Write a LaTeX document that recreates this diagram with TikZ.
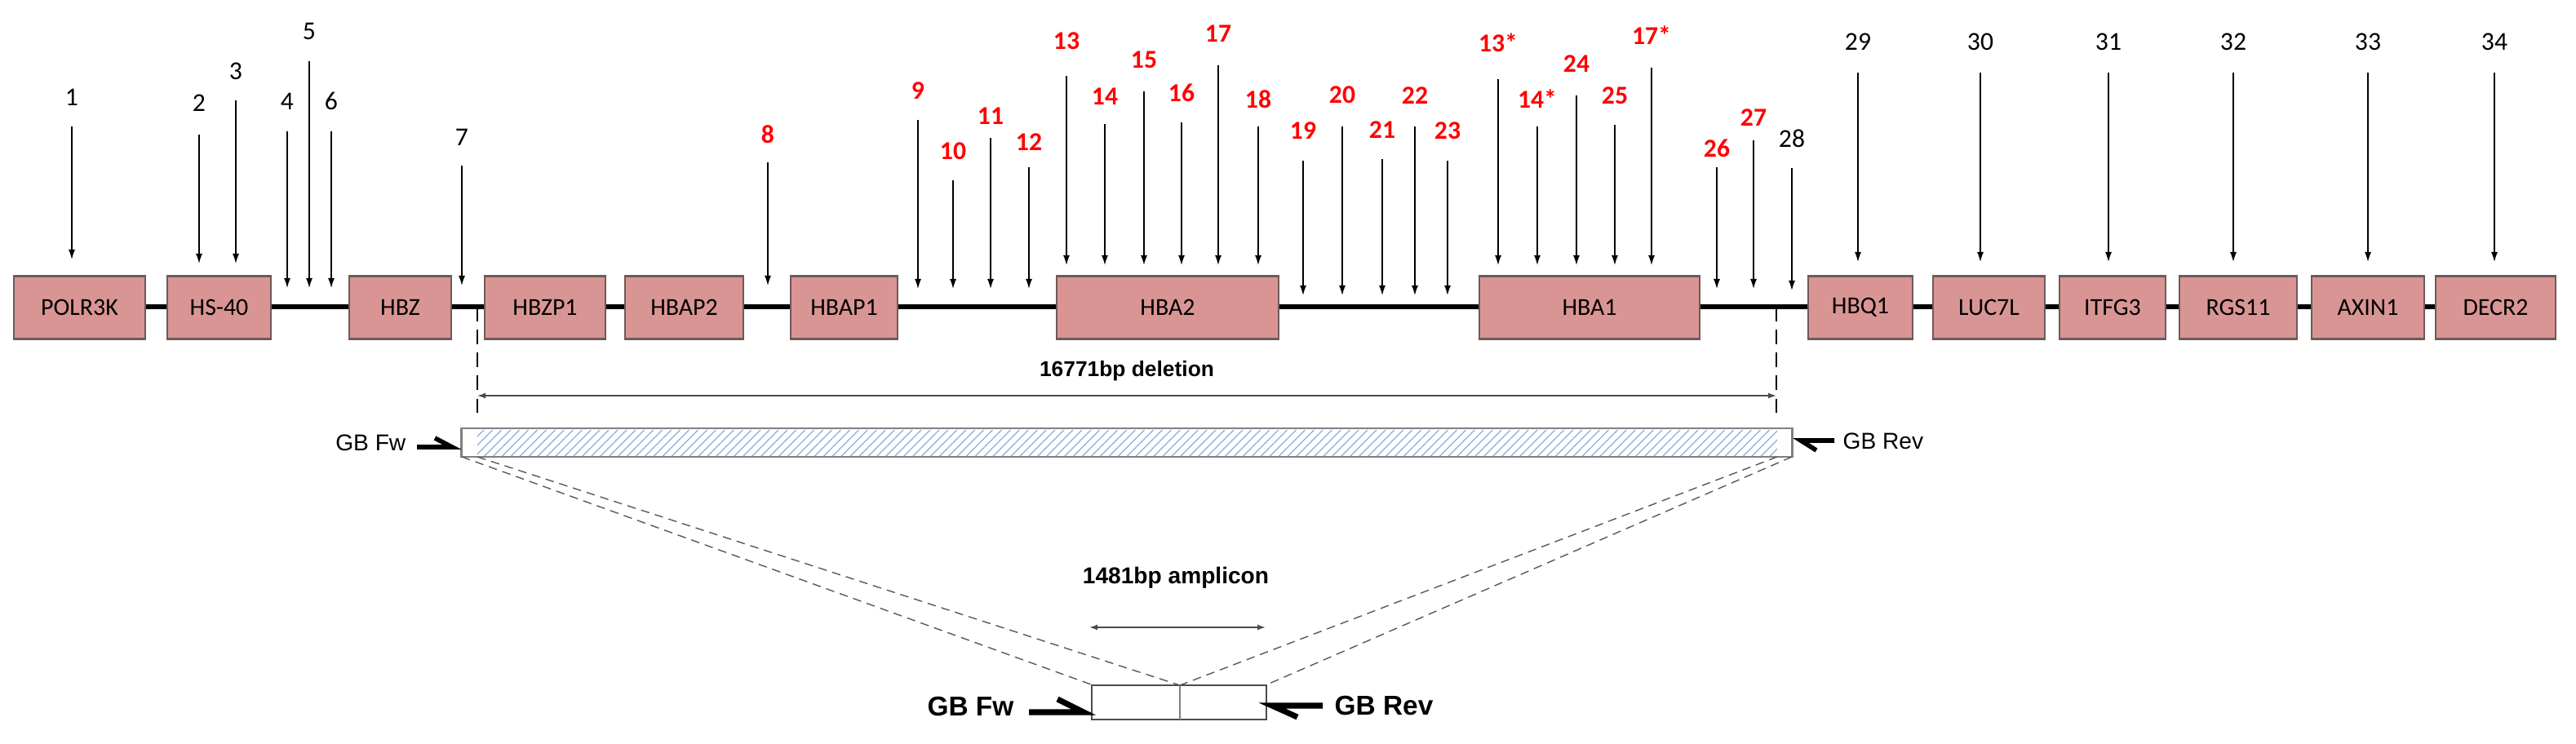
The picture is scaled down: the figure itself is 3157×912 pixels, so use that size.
\documentclass[tikz,border=0pt]{standalone}
\usepackage{fontspec}
\setmainfont{Carlito}
\newfontfamily\arialf{Liberation Sans}
\usetikzlibrary{arrows.meta,patterns.meta}
\definecolor{genefill}{HTML}{D99594}
\definecolor{geneline}{HTML}{6E5A5A}
\definecolor{hatch}{HTML}{8FAADC}
\begin{document}
\begin{tikzpicture}[x=0.01cm,y=-0.01cm,
  gene/.style={draw=geneline,line width=0.6pt,fill=genefill,inner sep=0pt,font=\fontsize{8.5pt}{9pt}\selectfont},
  num/.style={font=\fontsize{9pt}{10pt}\selectfont,inner sep=0pt},
  rnum/.style={num,text=red,font=\fontsize{9pt}{10pt}\selectfont\bfseries},
  marker/.style={-{Latex[length=0.12cm,width=0.08cm]},line width=0.4pt},
  lbl/.style={font=\arialf\bfseries\fontsize{7.5pt}{8pt}\selectfont,inner sep=0pt},
  plbl/.style={font=\arialf\fontsize{8pt}{9pt}\selectfont,inner sep=0pt},
  primer/.style={line width=1.6pt},
  dotl/.style={densely dashed,line width=0.4pt,gray!70!black}]
\useasboundingbox (0,0) rectangle (3157,912);
% backbone
\draw[line width=1.6pt] (17,376) -- (3132,376);
% genes
\foreach \n/\a/\b/\t in {g1/17/178/POLR3K,g2/205/332/HS-40,g3/428/553/HBZ,g4/594/742/HBZP1,g5/766/911/HBAP2,g6/969/1100/HBAP1,g7/1295/1567/HBA2,g8/1813/2083/HBA1,g9/2216/2344/HBQ1,g10/2369/2506/LUC7L,g11/2524/2654/ITFG3,g12/2671/2815/RGS11,g13/2833/2971/AXIN1,g14/2985/3132/DECR2}{
  \pgfmathsetmacro{\w}{(\b-\a)*0.01}
  \node[gene,minimum width=\w cm,minimum height=0.77cm] (\n) at ({(\a+\b)/2},377) {\t};
}
% markers: name/text/x/labely/starty/endy/style
\foreach \k/\t/\x/\ly/\sy/\ey/\s in {
 m1/1/88/119/155/318/num, m2/2/244/126/165/323/num, m3/3/289/87/123/323/num,
 m4/4/352/124/161/353/num, m5/5/379/38/75/353/num, m6/6/406/124/161/353/num,
 m7/7/566/168/203/350/num, m8/8/941/165/199/350/rnum,
 m9/9/1125/111/147/354/rnum, m10/10/1168/185/221/354/rnum, m11/11/1214/142/169/354/rnum, m12/12/1261/174/205/354/rnum,
 m13/13/1307/50/93/325/rnum, m14/14/1354/118/152/325/rnum, m15/15/1402/73/112/325/rnum, m16/16/1448/114/150/325/rnum,
 m17/17/1493/41/80/325/rnum, m18/18/1542/122/155/325/rnum,
 m19/19/1597/160/197/362/rnum, m20/20/1645/116/155/362/rnum, m21/21/1694/159/195/362/rnum, m22/22/1734/117/155/362/rnum, m23/23/1774/160/197/362/rnum,
 m13s/13*/1836/52/97/325/rnum, m14s/14*/1884/121/155/325/rnum, m24/24/1932/78/117/325/rnum, m25/25/1979/117/153/325/rnum, m17s/17*/2024/43/83/325/rnum,
 m26/26/2104/182/205/354/rnum, m27/27/2149/144/172/354/rnum, m28/28/2196/170/206/356/num,
 m29/29/2277/51/89/321/num, m30/30/2427/51/89/321/num, m31/31/2584/51/89/321/num, m32/32/2737/51/89/321/num, m33/33/2902/51/89/321/num, m34/34/3057/51/89/321/num}{
  \node[\s] (\k) at (\x,\ly) {\t};
  \coordinate (\k s) at (\x,\sy);
  \coordinate (\k e) at (\x,\ey);
  \draw[marker] (\k s) -- (\k e);
}
% deletion
\coordinate (dl0) at (585,376); \coordinate (dl1) at (585,512);
\coordinate (dr0) at (2177,376); \coordinate (dr1) at (2177,512);
\draw[dashed,line width=0.6pt,dash pattern=on 5pt off 3pt] (dl0) -- (dl1);
\draw[dashed,line width=0.6pt,dash pattern=on 5pt off 3pt] (dr0) -- (dr1);
\coordinate (al) at (585,485); \coordinate (ar) at (2177,485);
\draw[{Latex[length=0.1cm,width=0.07cm]}-{Latex[length=0.1cm,width=0.07cm]},line width=0.4pt,gray!60!black] (al) -- (ar);
\node[lbl] (dellbl) at (1381,455) {16771bp deletion};
% bar
\node[draw=gray,line width=0.6pt,fill=white,minimum width=16.30cm,minimum height=0.35cm,inner sep=0pt] (bar) at (1381,542.5) {};
\fill[pattern={Lines[angle=45,distance=2.2pt,line width=0.35pt]},pattern color=hatch] (585,527) rectangle (2178,558);
\node[plbl,anchor=east] (fw1) at (498,543) {GB Fw};
\node[plbl,anchor=west] (rv1) at (2258,541) {GB Rev};
\coordinate (fw1a) at (511,548); \coordinate (fw1b) at (554,548); \coordinate (fw1c) at (533,537);
\draw[primer] (fw1a) -- (fw1b) -- (fw1c);
\coordinate (rv1a) at (2248,540); \coordinate (rv1b) at (2207,540); \coordinate (rv1c) at (2226,552);
\draw[primer] (rv1a) -- (rv1b) -- (rv1c);
% amplicon
\node[draw=gray!60!black,line width=0.6pt,minimum width=2.14cm,minimum height=0.42cm,inner sep=0pt] (amp) at (1445,861) {};
\coordinate (ampm) at (1446,840); \coordinate (ampmb) at (1446,882);
\draw[gray,line width=0.4pt] (ampm) -- (ampmb);
\coordinate (bl0) at (566,560); \coordinate (bl1) at (585,560);
\coordinate (br0) at (2196,560); \coordinate (br1) at (2178,560);
\draw[dotl] (bl0) -- (amp.north west);
\draw[dotl] (bl1) -- (ampm);
\draw[dotl] (br1) -- (ampm);
\draw[dotl] (br0) -- (amp.north east);
\coordinate (aal) at (1335,769); \coordinate (aar) at (1551,769);
\draw[{Latex[length=0.1cm,width=0.07cm]}-{Latex[length=0.1cm,width=0.07cm]},line width=0.4pt,gray!60!black] (aal) -- (aar);
\node[lbl,font=\arialf\bfseries\fontsize{8pt}{9pt}\selectfont] (amplbl) at (1441,708) {1481bp amplicon};
\node[lbl,anchor=east,font=\arialf\bfseries\fontsize{9.5pt}{10pt}\selectfont] (fw2) at (1243,866) {GB Fw};
\node[lbl,anchor=west,font=\arialf\bfseries\fontsize{9.5pt}{10pt}\selectfont] (rv2) at (1635,865) {GB Rev};
\coordinate (fw2a) at (1261,873); \coordinate (fw2b) at (1328,873); \coordinate (fw2c) at (1296,857);
\draw[primer,line width=2pt] (fw2a) -- (fw2b) -- (fw2c);
\coordinate (rv2a) at (1621,865); \coordinate (rv2b) at (1559,865); \coordinate (rv2c) at (1590,879);
\draw[primer,line width=2pt] (rv2a) -- (rv2b) -- (rv2c);
\end{tikzpicture}
\end{document}
